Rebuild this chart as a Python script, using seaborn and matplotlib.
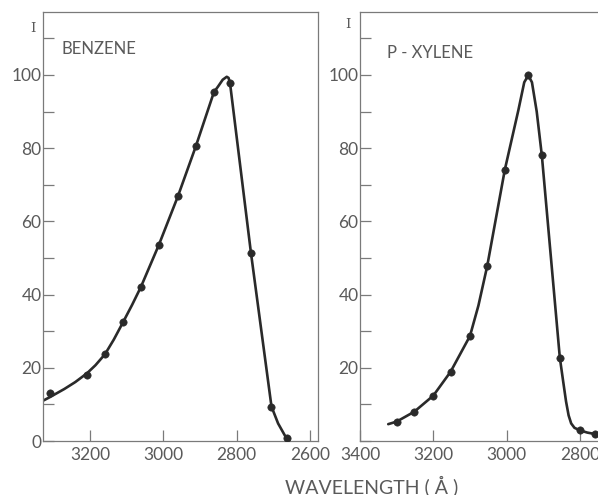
import matplotlib
matplotlib.use("Agg")
import matplotlib.pyplot as plt
import seaborn as sns
from matplotlib.ticker import MultipleLocator

benzene_wl = [3309, 3208, 3159, 3110, 3061, 3012, 2960, 2911, 2862, 2818, 2761, 2705, 2664]
benzene_i = [13.0, 18.0, 23.8, 32.5, 42.1, 53.6, 66.9, 80.6, 95.3, 97.7, 51.4, 9.4, 0.7]

# the drawn curve, traced by eye
benzene_curve_wl = [3328, 3309, 3270, 3240, 3208, 3185, 3159, 3135, 3110, 3085, 3061, 3012,
                    2960, 2911, 2862, 2851, 2838, 2827, 2822, 2818, 2761, 2705, 2687, 2664, 2656]
benzene_curve_i = [11.0, 12.0, 14.2, 16.1, 18.5, 20.7, 23.7, 27.7, 32.4, 37.2, 42.1, 53.6,
                   66.9, 80.6, 95.3, 96.8, 98.7, 99.5, 99.2, 97.7, 51.4, 9.4, 4.8, 0.7, 0.0]

xylene_wl = [3300, 3252, 3200, 3153, 3100, 3053, 3005, 2941, 2904, 2855, 2800, 2759]
xylene_i = [5.3, 8.0, 12.4, 18.9, 28.7, 47.8, 74.1, 99.9, 78.0, 22.8, 2.9, 1.9]

xylene_curve_wl = [3323, 3300, 3252, 3200, 3153, 3100, 3077, 3053, 3005, 2968, 2952, 2941,
                   2931, 2918, 2904, 2855, 2846, 2838, 2831, 2824, 2815, 2800, 2780, 2759, 2740]
xylene_curve_i = [4.6, 5.3, 8.0, 12.4, 18.9, 28.7, 37.0, 47.8, 74.1, 90.4, 98.0, 99.9,
                  98.0, 90.0, 78.0, 22.8, 16.4, 10.8, 7.0, 4.8, 3.6, 2.9, 2.3, 1.9, 1.8]

sns.set_theme(style="white")
plt.rcParams['font.family'] = ['Lato', 'DejaVu Sans']

ink = '#2a2a2a'
grey = '#5a5a5a'
frame = '#7a7a7a'

fig = plt.figure(figsize=(5.98, 4.95), dpi=100)
ax1 = fig.add_axes([43 / 598, 1 - 441 / 495, 274.7 / 598, 429 / 495])
ax2 = fig.add_axes([360 / 598, 1 - 441 / 495, 293.3 / 598, 429 / 495])


def draw_panel(ax, cwl, ci, wl, inten, xlim, xticks, yticks, name, name_pos):
    sns.lineplot(x=cwl, y=ci, sort=False, estimator=None, color=ink, linewidth=1.9, ax=ax)
    sns.scatterplot(x=wl, y=inten, color=ink, edgecolor=ink, s=28, zorder=3, ax=ax)
    ax.set_xlim(*xlim)
    ax.set_ylim(0, 117.2)
    ax.set_xticks(xticks)
    ax.set_yticks(yticks)
    ax.yaxis.set_minor_locator(MultipleLocator(10))
    ax.set_xlabel('')
    ax.set_ylabel('')
    ax.tick_params(which='both', direction='in', length=8, width=0.9, color=frame,
                   labelsize=12.5, labelcolor=grey, left=True, bottom=True)
    ax.tick_params(axis='y', pad=1)
    ax.tick_params(axis='x', pad=4)
    for sp in ax.spines.values():
        sp.set_color(frame)
        sp.set_linewidth(0.9)
    ax.text(name_pos[0], name_pos[1], name, transform=ax.transAxes, fontsize=12,
            color=grey, va='center', ha='left')


draw_panel(ax1, benzene_curve_wl, benzene_curve_i, benzene_wl, benzene_i,
           (3328, 2579), [3200, 3000, 2800, 2600], [0, 20, 40, 60, 80, 100],
           'BENZENE', (0.069, 0.914))
draw_panel(ax2, xylene_curve_wl, xylene_curve_i, xylene_wl, xylene_i,
           (3400, 2600), [3400, 3200, 3000, 2800], [20, 40, 60, 80, 100],
           'P - XYLENE', (0.092, 0.904))

fig.text(33 / 598, 1 - 29 / 495, 'I', family='DejaVu Serif', fontsize=9.5, color=grey,
         ha='center', va='center')
fig.text(348 / 598, 1 - 25 / 495, 'I', family='DejaVu Serif', fontsize=9.5, color=grey,
         ha='center', va='center')
fig.text(372 / 598, 1 - 486 / 495, 'WAVELENGTH ( Å )', fontsize=14, color=grey,
         ha='center', va='center')

fig.savefig('out.png', dpi=100)
